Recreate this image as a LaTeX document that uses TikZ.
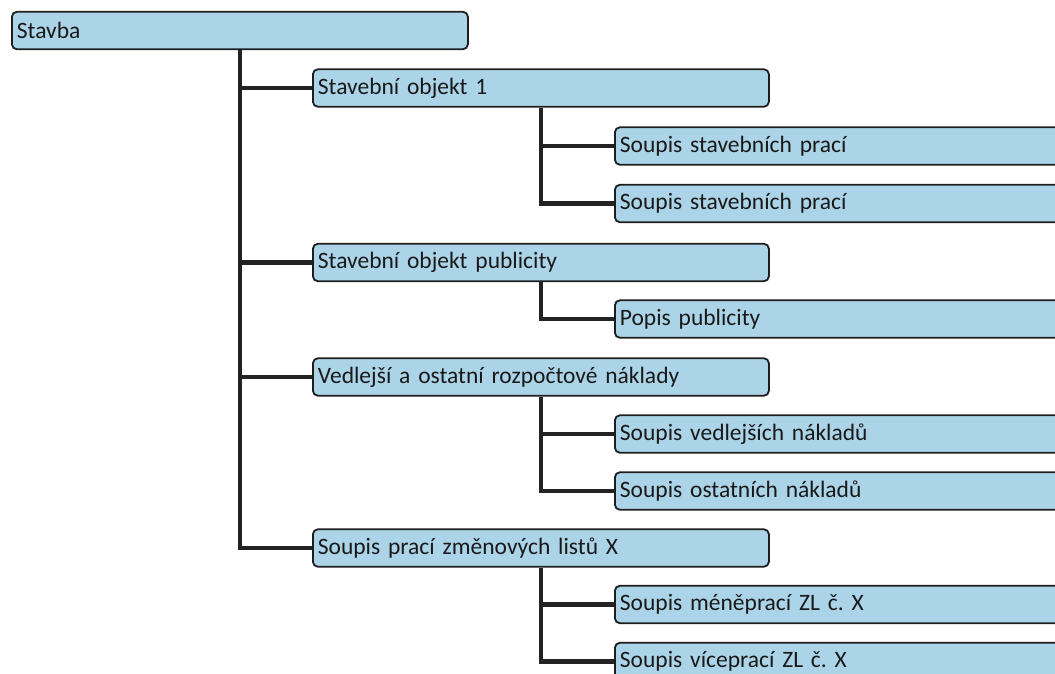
\documentclass[tikz,border=0pt]{standalone}
\usepackage{fontspec}
\setmainfont{Carlito}
\frenchspacing
\definecolor{boxfill}{RGB}{172,212,232}
\definecolor{boxline}{RGB}{30,30,30}
\definecolor{linkcol}{RGB}{35,35,35}
\begin{document}
\begin{tikzpicture}[x=1pt,y=-1pt,
  item/.style={draw=boxline, line width=1.8pt, fill=boxfill, rounded corners=5pt,
    minimum height=37.5pt, text width=446pt, inner xsep=5pt, inner ysep=0pt,
    align=left, anchor=west, text=black!90,
    font=\fontsize{23.5}{26}\selectfont},
  link/.style={draw=linkcol, line width=4.2pt, line join=miter}]
\useasboundingbox (0,0) rectangle (1055,673);
\clip (0,0) rectangle (1055,673);
% level 0
\node[item] (stavba) at (11,30.5) {Stavba};
% level 1
\node[item] (o1)   at (312,88)    {Stavební objekt 1};
\node[item] (pub)  at (312,262.5) {Stavební objekt publicity};
\node[item] (ved)  at (312,377)   {Vedlejší a ostatní rozpočtové náklady};
\node[item] (zl)   at (312,548)   {Soupis prací změnových listů X};
% level 2
\node[item] (sp1)  at (614,146)   {Soupis stavebních prací};
\node[item] (sp2)  at (614,203.5) {Soupis stavebních prací};
\node[item] (pp)   at (614,319)   {Popis publicity};
\node[item] (svn)  at (614,434)   {Soupis vedlejších nákladů};
\node[item] (son)  at (614,491)   {Soupis ostatních nákladů};
\node[item] (smp)  at (614,604.5) {Soupis méněprací ZL č. X};
\node[item] (svp)  at (614,661.5) {Soupis víceprací ZL č. X};
% connectors
\draw[link] ([xshift=229pt]stavba.south west) |- (o1.west);
\draw[link] ([xshift=229pt]stavba.south west) |- (pub.west);
\draw[link] ([xshift=229pt]stavba.south west) |- (ved.west);
\draw[link] ([xshift=229pt]stavba.south west) |- (zl.west);
\draw[link] ([xshift=229pt]o1.south west) |- (sp1.west);
\draw[link] ([xshift=229pt]o1.south west) |- (sp2.west);
\draw[link] ([xshift=229pt]pub.south west) |- (pp.west);
\draw[link] ([xshift=229pt]ved.south west) |- (svn.west);
\draw[link] ([xshift=229pt]ved.south west) |- (son.west);
\draw[link] ([xshift=229pt]zl.south west) |- (smp.west);
\draw[link] ([xshift=229pt]zl.south west) |- (svp.west);
\end{tikzpicture}
\end{document}
